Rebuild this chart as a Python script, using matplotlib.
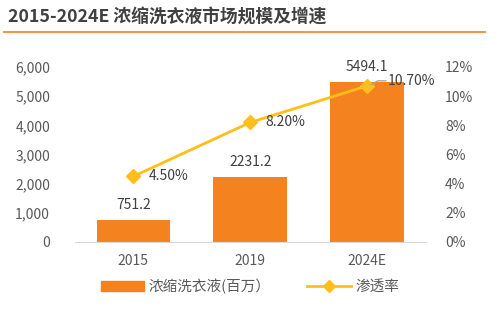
import numpy as np
import matplotlib
matplotlib.use("Agg")
import matplotlib.pyplot as plt
from matplotlib.lines import Line2D

plt.rcParams['font.family'] = ['Noto Sans CJK SC', 'DejaVu Sans']

# ---------- данные ----------
years = ["2015", "2019", "2024E"]
market = [751.2, 2231.2, 5494.1]          # 浓缩洗衣液(百万)
penetration = [4.50, 8.20, 10.70]          # 渗透率, %

BAR_COLOR = "#F4821F"
LINE_COLOR = "#FFBE1A"
TEXT_COLOR = "#404040"
TICK_COLOR = "#595959"

fig = plt.figure(figsize=(5.0, 3.23), dpi=100)
ax = fig.add_axes([0.15, 0.2508, 0.701, 0.5418])
ax2 = ax.twinx()

x = np.arange(len(years))
ax.bar(x, market, width=0.63, color=BAR_COLOR, zorder=2)
for xi, v in zip(x, market):
    ax.text(xi, v + 280, f"{v:.1f}", ha="center", va="bottom",
            fontsize=10, color=TEXT_COLOR)

ax.set_xlim(-0.5, 2.5)
ax.set_ylim(0, 6000)
ax.set_yticks(range(0, 6001, 1000))
ax.set_yticklabels([f"{v:,}" for v in range(0, 6001, 1000)])
ax.set_xticks(x)
ax.set_xticklabels(years)

ax2.plot(x, penetration, color=LINE_COLOR, lw=2, marker="D", ms=7, zorder=3)
ax2.set_ylim(0, 12)
ax2.set_yticks(range(0, 13, 2))
ax2.set_yticklabels([f"{v}%" for v in range(0, 13, 2)])

offsets = [(0.13, 0.0), (0.13, 0.0), (0.18, 0.35)]
for xi, v, (dx, dy) in zip(x, penetration, offsets):
    ax2.text(xi + dx, v + dy, f"{v:.2f}%", ha="left", va="center",
             fontsize=10, color=TEXT_COLOR)
# выноска для 10.70%
ax2.plot([x[2] + 0.04, x[2] + 0.09, x[2] + 0.16],
         [penetration[2] + 0.1, penetration[2] + 0.35, penetration[2] + 0.35],
         color="#A6A6A6", lw=1, zorder=4)

for a in (ax, ax2):
    for s in a.spines.values():
        s.set_visible(False)
    a.tick_params(length=0, labelsize=10, colors=TICK_COLOR)
ax.spines["bottom"].set_visible(True)
ax.spines["bottom"].set_color("#D9D9D9")
ax.tick_params(axis="x", pad=9)
ax.tick_params(axis="y", pad=18)
ax2.tick_params(axis="y", pad=14)

# легенда
handles = [
    plt.Rectangle((0, 0), 1, 1, color=BAR_COLOR),
    Line2D([0], [0], color=LINE_COLOR, lw=2, marker="D", ms=6),
]
fig.legend(handles, ["浓缩洗衣液(百万）", "渗透率"], loc="center",
           bbox_to_anchor=(0.5, 0.113), ncol=2, frameon=False,
           fontsize=10.5, labelcolor=TICK_COLOR, handlelength=3.0,
           handleheight=0.6, columnspacing=2.5, handletextpad=0.3)

# заголовок
fig.text(0.016, 0.948, "2015-2024E 浓缩洗衣液市场规模及增速", fontsize=12.8,
         fontweight="bold", color=TEXT_COLOR, va="center", ha="left")
fig.add_artist(Line2D([0.008, 0.97], [0.9, 0.9], color="#F79646", lw=1.5))

fig.savefig("out.png", dpi=100)
